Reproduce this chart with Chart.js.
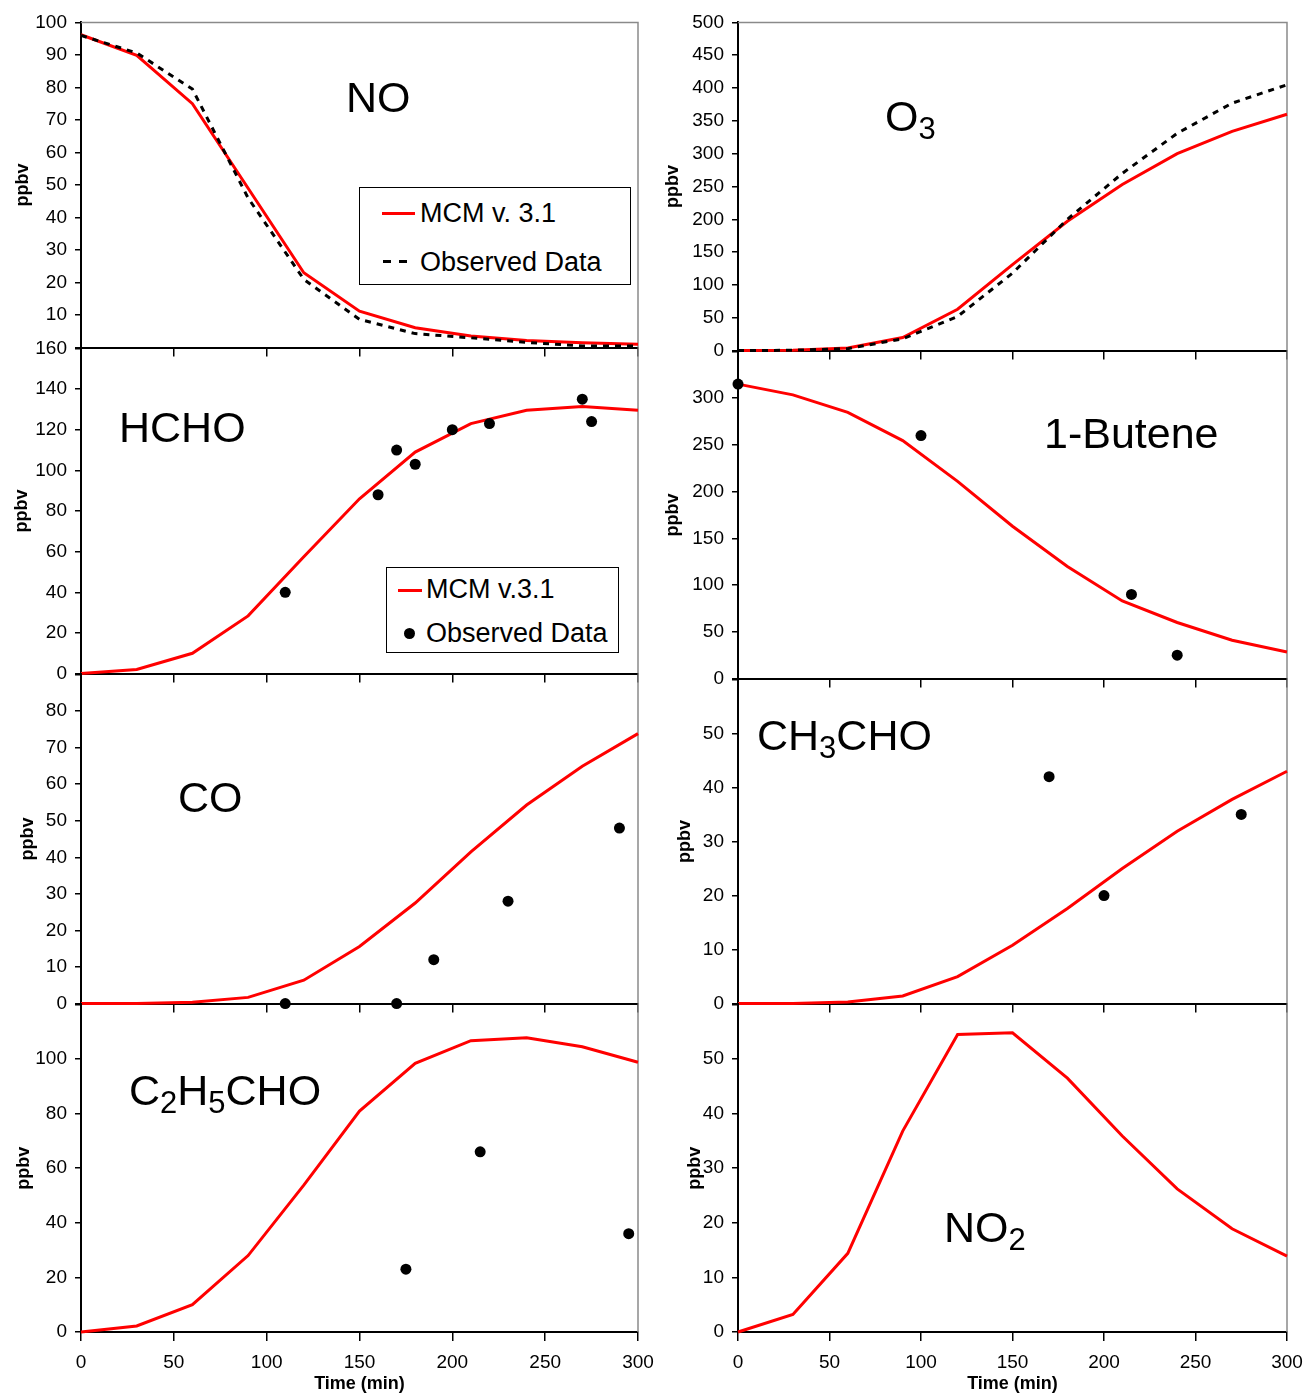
<!DOCTYPE html>
<html>
<head>
<meta charset="utf-8">
<title>Chamber run: MCM v3.1 vs observed</title>
<script src="https://cdn.jsdelivr.net/npm/chart.js@4.4.1/dist/chart.umd.min.js"></script>
<style>
  body { margin: 0; background: #fff; font-family: "Liberation Sans", Arial, sans-serif; }
  #wrap { position: relative; width: 1307px; height: 1399px; overflow: hidden; }
  #wrap canvas { position: absolute; }
  .name { position: absolute; font-size: 43px; line-height: 1; white-space: nowrap; color: #000; z-index: 20; }
  .name sub { font-size: 0.72em; vertical-align: -0.27em; line-height: 0; }
  .legend { position: absolute; border: 1px solid #000; background: #fff; z-index: 20; }
  .legend .txt { position: absolute; font-size: 27px; line-height: 1; white-space: nowrap; color: #000; }
  .legend .red { position: absolute; height: 3px; background: #ff0000; }
  .legend .dash { position: absolute; width: 8px; height: 3px; background: #000; }
  .legend .dot { position: absolute; width: 11px; height: 11px; border-radius: 50%; background: #000; }
</style>
</head>
<body>
<div id="wrap">
  <div class="name" style="left:346px;top:76px">NO</div>
  <div class="name" style="left:885px;top:95px">O<sub>3</sub></div>
  <div class="name" style="left:119px;top:406px">HCHO</div>
  <div class="name" style="left:1044px;top:412px">1-Butene</div>
  <div class="name" style="left:178px;top:776px">CO</div>
  <div class="name" style="left:757px;top:714px">CH<sub>3</sub>CHO</div>
  <div class="name" style="left:129px;top:1069px">C<sub>2</sub>H<sub>5</sub>CHO</div>
  <div class="name" style="left:944px;top:1206px">NO<sub>2</sub></div>

  <div class="legend" style="left:359px;top:187px;width:270px;height:96px">
    <div class="red" style="left:22px;top:24px;width:33px"></div>
    <div class="txt" style="left:60px;top:12px">MCM v. 3.1</div>
    <div class="dash" style="left:23px;top:72px"></div>
    <div class="dash" style="left:39px;top:72px"></div>
    <div class="txt" style="left:60px;top:61px">Observed Data</div>
  </div>
  <div class="legend" style="left:386px;top:567px;width:231px;height:84px">
    <div class="red" style="left:11px;top:21px;width:24px"></div>
    <div class="txt" style="left:39px;top:8px">MCM v.3.1</div>
    <div class="dot" style="left:17px;top:60px"></div>
    <div class="txt" style="left:39px;top:52px">Observed Data</div>
  </div>
</div>

<script>
// model output every 30 min, observations where measured
const modelTime = [0, 30, 60, 90, 120, 150, 180, 210, 240, 270, 300];
const timeTicks = [0, 50, 100, 150, 200, 250, 300];

const noModel = [96.2, 89.9, 75, 49, 23, 11.2, 6.1, 3.6, 2.2, 1.5, 1.0];
const noObserved = [96, 90.6, 79.5, 46, 21, 8.7, 4.3, 3, 1.6, 0.5, 0.5];

const o3Model = [0, 0.5, 4, 20, 63, 131, 197, 253, 300, 334, 360];
const o3Observed = [0, 0.5, 3, 18, 52, 118, 200, 270, 331, 377, 405];

const hchoModel = [0, 2, 10, 28.4, 57.5, 86, 109, 123, 129.6, 131.4, 129.6];
const hchoObsTime = [110, 160, 170, 180, 200, 220, 270, 275];
const hchoObs = [40, 88, 110, 103, 120, 123, 135, 124];

const buteneModel = [315, 303.5, 284.8, 254.6, 211, 163, 120, 83, 60, 41, 28.4];
const buteneObsTime = [0, 100, 215, 240];
const buteneObs = [315, 260, 90, 25];

const coModel = [0, 0, 0.4, 1.7, 6.4, 15.6, 27.5, 41.5, 54.3, 64.9, 73.8];
const coObsTime = [110, 170, 190, 230, 290];
const coObs = [0, 0, 12, 28, 48];

const acetModel = [0, 0, 0.3, 1.4, 5, 10.8, 17.6, 25, 31.9, 37.8, 43];
const acetObsTime = [170, 200, 275];
const acetObs = [42, 20, 35];

const propModel = [0, 2.2, 10, 28, 53.8, 80.9, 98.4, 106.7, 107.8, 104.5, 98.8];
const propObsTime = [175, 215, 295];
const propObs = [23, 66, 36];

const no2Model = [0, 3.2, 14.4, 36.8, 54.5, 54.8, 46.5, 35.9, 26.2, 18.9, 13.9];

// y axis ranges, panel order: NO, O3, HCHO, 1-butene, CO, CH3CHO, C2H5CHO, NO2
const yMax = [100, 500, 160, 350, 90, 60, 120, 60];
const yStep = [10, 50, 20, 50, 10, 10, 20, 10];

const FONT = '"Liberation Sans", Arial, sans-serif';
Chart.defaults.font.family = FONT;
Chart.defaults.color = '#000';

const toPts = (xs, ys) => xs.map((x, i) => ({ x: x, y: ys[i] }));

function modelSet(ys) {
  return { data: toPts(modelTime, ys), showLine: true, borderColor: '#ff0000', borderWidth: 3,
    pointRadius: 0, tension: 0, clip: false };
}
function dashedSet(ys) {
  return { data: toPts(modelTime, ys), showLine: true, borderColor: '#000', borderWidth: 3,
    borderDash: [6, 6], pointRadius: 0, tension: 0, clip: false };
}
function dotSet(xs, ys) {
  return { data: toPts(xs, ys), showLine: false, pointRadius: 5.5, pointBackgroundColor: '#000',
    pointBorderWidth: 0, clip: false };
}

// gray right (and top for first row) frame of the plot area
const frameEdges = {
  id: 'frameEdges',
  beforeDatasetsDraw(chart, args, opts) {
    const { ctx, chartArea: a } = chart;
    ctx.save();
    ctx.strokeStyle = '#8a8a8a';
    ctx.lineWidth = 1.5;
    ctx.beginPath();
    if (opts.top) { ctx.moveTo(a.left, a.top); ctx.lineTo(a.right, a.top); }
    else ctx.moveTo(a.right, a.top);
    ctx.lineTo(a.right, a.bottom);
    ctx.stroke();
    ctx.restore();
  }
};

const panels = [
  { col: 0, t: 22, b: 348, sets: [dashedSet(noObserved), modelSet(noModel)], hideZero: true, titleX: 12, top: true },
  { col: 1, t: 22, b: 351, sets: [dashedSet(o3Observed), modelSet(o3Model)], titleX: 12, top: true },
  { col: 0, t: 348, b: 674, sets: [dotSet(hchoObsTime, hchoObs), modelSet(hchoModel)], titleX: 11 },
  { col: 1, t: 351, b: 679, sets: [dotSet(buteneObsTime, buteneObs), modelSet(buteneModel)], hideTop: true, titleX: 12 },
  { col: 0, t: 674, b: 1004, sets: [dotSet(coObsTime, coObs), modelSet(coModel)], hideTop: true, titleX: 17 },
  { col: 1, t: 679, b: 1004, sets: [dotSet(acetObsTime, acetObs), modelSet(acetModel)], hideTop: true, titleX: 24 },
  { col: 0, t: 1004, b: 1332, sets: [dotSet(propObsTime, propObs), modelSet(propModel)], hideTop: true, titleX: 13, xLabels: true },
  { col: 1, t: 1004, b: 1332, sets: [modelSet(no2Model)], hideTop: true, titleX: 34, xLabels: true }
];

const wrap = document.getElementById('wrap');

function panelConfig(p, i, yWidth, xHeight) {
  const max = yMax[i];
  return {
    type: 'scatter',
    data: { datasets: p.sets },
    plugins: [frameEdges],
    options: {
      responsive: false,
      maintainAspectRatio: false,
      animation: false,
      devicePixelRatio: 1,
      layout: { padding: { top: 14, right: 26, left: 0, bottom: 0 } },
      plugins: {
        legend: { display: false },
        tooltip: { enabled: false },
        frameEdges: { top: !!p.top }
      },
      scales: {
        x: {
          type: 'linear', min: 0, max: 300,
          afterBuildTicks: ax => { ax.ticks = timeTicks.map(v => ({ value: v })); },
          afterFit: s => { s.height = xHeight; },
          grid: { drawOnChartArea: false, drawTicks: true, tickLength: 9, color: '#000', lineWidth: 1.5 },
          border: { color: '#000', width: 2 },
          ticks: { display: !!p.xLabels, autoSkip: false, maxRotation: 0, padding: 10,
            font: { size: 19 }, color: '#000' },
          title: { display: !!p.xLabels, text: 'Time (min)', color: '#000',
            font: { size: 18, weight: 'bold' }, padding: { top: 0, bottom: 3 } }
        },
        y: {
          type: 'linear', min: 0, max: max,
          afterFit: s => { s.width = yWidth; },
          grid: { drawOnChartArea: false, drawTicks: true, tickLength: 6, color: '#000', lineWidth: 1.5 },
          border: { color: '#000', width: 2 },
          ticks: {
            stepSize: yStep[i], autoSkip: false, padding: 8, font: { size: 19 }, color: '#000',
            callback: v => ((p.hideTop && v === max) || (p.hideZero && v === 0)) ? '' : v
          },
          title: { display: true, text: 'ppbv', color: '#000',
            font: { size: 18, weight: 'bold' }, padding: { top: p.titleX, bottom: 0 } }
        }
      }
    }
  };
}

panels.forEach((p, i) => {
  const left = p.col ? 650 : 0;
  const plotL = p.col ? 738 : 81;
  const plotR = p.col ? 1287 : 638;
  const xHeight = p.xLabels ? 66 : 12;

  const cv = document.createElement('canvas');
  cv.width = plotR + 26 - left;
  cv.height = (p.b - p.t) + 14 + xHeight;
  wrap.appendChild(cv);

  // first pass, then fit the canvas so the plot area lands on the wanted box
  let chart = new Chart(cv, panelConfig(p, i, plotL - left, xHeight));
  const a = chart.chartArea;
  const extraTop = a.top, extraBottom = cv.height - a.bottom;
  const extraLeft = a.left, extraRight = cv.width - a.right;
  chart.destroy();
  cv.width = (plotR - plotL) + extraLeft + extraRight;
  cv.height = (p.b - p.t) + extraTop + extraBottom;
  cv.style.left = (plotL - extraLeft) + 'px';
  cv.style.top = (p.t - extraTop) + 'px';
  chart = new Chart(cv, panelConfig(p, i, plotL - left, xHeight));
});
</script>
</body>
</html>
